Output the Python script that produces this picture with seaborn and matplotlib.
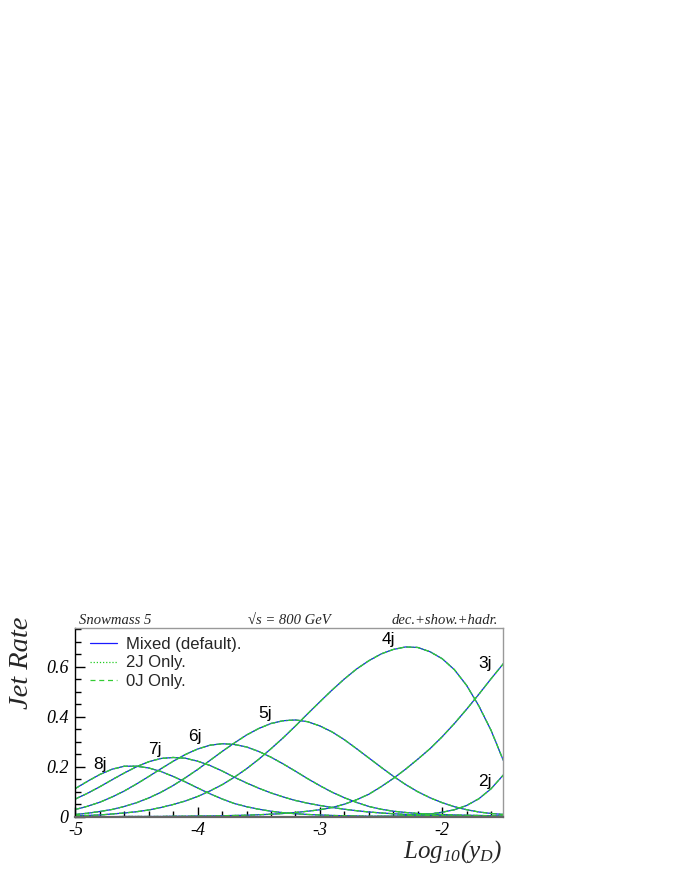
import numpy as np
import pandas as pd
import matplotlib
matplotlib.use("Agg")
import matplotlib.pyplot as plt
import seaborn as sns
from matplotlib.lines import Line2D
from matplotlib.ticker import MultipleLocator

# ---------------- data ----------------
log_yd = [-5.0, -4.9, -4.8, -4.7, -4.6, -4.5, -4.4, -4.3, -4.2, -4.1,
          -4.0, -3.9, -3.8, -3.7, -3.6, -3.5, -3.4, -3.3, -3.2, -3.1,
          -3.0, -2.9, -2.8, -2.7, -2.6, -2.5, -2.4, -2.3, -2.2, -2.1,
          -2.0, -1.9, -1.8, -1.7, -1.6, -1.5]

rate_2j = [0.0, 0.0, 0.0, 0.0, 0.0, 0.0, 0.0, 0.0, 0.0, 0.0,
           0.0, 0.0, 0.0, 0.0, 0.0, 0.0, 0.0, 0.0, 0.0, 0.0,
           0.0, 0.0, 0.0, 0.0, 0.0, 0.001, 0.002, 0.004, 0.007, 0.011,
           0.018, 0.028, 0.045, 0.072, 0.112, 0.167]
rate_3j = [0.0, 0.0, 0.0, 0.0, 0.001, 0.001, 0.001, 0.001, 0.002, 0.002,
           0.003, 0.003, 0.004, 0.005, 0.006, 0.008, 0.010, 0.013, 0.017, 0.022,
           0.028, 0.037, 0.050, 0.068, 0.090, 0.120, 0.153, 0.190, 0.230, 0.272,
           0.320, 0.373, 0.430, 0.490, 0.552, 0.612]
rate_4j = [0.004, 0.005, 0.007, 0.011, 0.015, 0.020, 0.027, 0.037, 0.049, 0.063,
           0.081, 0.103, 0.128, 0.158, 0.192, 0.230, 0.272, 0.316, 0.363, 0.412,
           0.460, 0.507, 0.551, 0.591, 0.624, 0.651, 0.669, 0.679, 0.677, 0.660,
           0.632, 0.588, 0.525, 0.443, 0.345, 0.225]
rate_5j = [0.009, 0.014, 0.021, 0.029, 0.041, 0.056, 0.075, 0.098, 0.125, 0.156,
           0.189, 0.225, 0.261, 0.295, 0.327, 0.353, 0.373, 0.384, 0.387, 0.380,
           0.363, 0.339, 0.308, 0.272, 0.235, 0.198, 0.162, 0.129, 0.100, 0.076,
           0.056, 0.040, 0.028, 0.019, 0.013, 0.009]
rate_6j = [0.029, 0.042, 0.058, 0.079, 0.103, 0.131, 0.161, 0.192, 0.222, 0.249,
           0.271, 0.286, 0.292, 0.289, 0.279, 0.261, 0.238, 0.211, 0.182, 0.152,
           0.124, 0.098, 0.076, 0.057, 0.041, 0.030, 0.022, 0.017, 0.013, 0.011,
           0.009, 0.007, 0.006, 0.005, 0.004, 0.003]
rate_7j = [0.071, 0.094, 0.120, 0.148, 0.175, 0.200, 0.220, 0.233, 0.237, 0.234,
           0.222, 0.205, 0.183, 0.158, 0.135, 0.114, 0.095, 0.079, 0.065, 0.054,
           0.045, 0.037, 0.030, 0.024, 0.019, 0.015, 0.012, 0.009, 0.007, 0.005,
           0.004, 0.003, 0.002, 0.002, 0.001, 0.001]
rate_8j = [0.113, 0.142, 0.169, 0.190, 0.202, 0.202, 0.195, 0.181, 0.161, 0.139,
           0.115, 0.092, 0.071, 0.053, 0.040, 0.030, 0.022, 0.016, 0.012, 0.009,
           0.007, 0.005, 0.004, 0.003, 0.002, 0.002, 0.001, 0.001, 0.001, 0.001,
           0.0, 0.0, 0.0, 0.0, 0.0, 0.0]

jet_labels = ["2j", "3j", "4j", "5j", "6j", "7j", "8j"]
series_names = ["Mixed (default).", "2J Only.", "0J Only."]
x_ticks = [-5, -4, -3, -2]
x_tick_labels = ["-5", "-4", "-3", "-2"]
y_ticks = [0.0, 0.2, 0.4, 0.6]
y_tick_labels = ["0", "0.2", "0.4", "0.6"]

rates = dict(zip(jet_labels, [rate_2j, rate_3j, rate_4j, rate_5j,
                              rate_6j, rate_7j, rate_8j]))
rows = []
for jet, vals in rates.items():
    for xv, yv in zip(log_yd, vals):
        rows.append((jet, xv, yv))
df = pd.DataFrame(rows, columns=["jets", "log_yd", "rate"])

# ---------------- style ----------------
sns.set_theme(style="white")
plt.rcParams["font.family"] = ["Liberation Sans", "DejaVu Sans"]
plt.rcParams["mathtext.fontset"] = "custom"
plt.rcParams["mathtext.it"] = "Liberation Serif:italic"
plt.rcParams["mathtext.rm"] = "Liberation Serif:italic"
plt.rcParams["mathtext.default"] = "it"

serif_it = dict(family=["Liberation Serif", "DejaVu Serif"], style="italic")

fig = plt.figure(figsize=(6.8, 8.8), dpi=100)
ax = fig.add_axes([0.1109, 0.0719, 0.6293, 0.2148])

styles = [
    ("Mixed (default).", "#1a1aff", "-"),
    ("2J Only.", "#22cc22", (0, (1, 1.5))),
    ("0J Only.", "#33cc33", (0, (4, 3))),
]
for name, color, ls in styles:
    for jet in jet_labels:
        sub = df[df["jets"] == jet]
        sns.lineplot(data=sub, x="log_yd", y="rate", ax=ax, color=color,
                     linestyle=ls, linewidth=0.9, legend=False,
                     estimator=None, sort=False)

ax.set_xlim(-5, -1.5)
ax.set_ylim(0, 0.756)
ax.set_xlabel("")
ax.set_ylabel("")

ax.set_xticks(x_ticks, labels=x_tick_labels)
ax.set_yticks(y_ticks, labels=y_tick_labels)
ax.xaxis.set_minor_locator(MultipleLocator(0.2))
ax.yaxis.set_minor_locator(MultipleLocator(0.05))
ax.tick_params(axis="both", which="both", direction="in", colors="black",
               bottom=True, left=True, top=False, right=False)
ax.tick_params(axis="x", which="major", length=7, width=1, pad=4)
ax.tick_params(axis="x", which="minor", length=4, width=1)
ax.tick_params(axis="y", which="major", length=7, width=1, pad=5)
ax.tick_params(axis="y", which="minor", length=4, width=1)
for lbl in ax.get_xticklabels() + ax.get_yticklabels():
    lbl.set_fontfamily(["Liberation Serif", "DejaVu Serif"])
    lbl.set_fontstyle("italic")
    lbl.set_fontsize(13)

for side in ["top", "right"]:
    ax.spines[side].set_color("#999999")
    ax.spines[side].set_linewidth(1.0)
ax.spines["left"].set_color("black")
ax.spines["left"].set_linewidth(1.0)
ax.spines["bottom"].set_color("#666666")
ax.spines["bottom"].set_linewidth(1.6)

# curve labels
label_pos = {"8j": (-4.80, 0.207), "7j": (-4.35, 0.269), "6j": (-4.02, 0.320),
             "5j": (-3.445, 0.411), "4j": (-2.44, 0.707), "3j": (-1.647, 0.611),
             "2j": (-1.647, 0.140)}
for jet, (lx, ly) in label_pos.items():
    ax.text(lx, ly, jet, ha="center", va="center", fontsize=12.5, color="black")

# legend
handles = [Line2D([], [], color=c, linestyle=ls, linewidth=0.9) for _, c, ls in styles]
ax.legend(handles, series_names, loc="upper left", bbox_to_anchor=(0.035, 0.95),
          frameon=False, fontsize=12, handlelength=1.6, handletextpad=0.55,
          labelspacing=0.2, borderaxespad=0, borderpad=0)

# header texts
fig.text(79 / 680, 1 - 620 / 880, "Snowmass 5", ha="left", va="center",
         fontsize=10.5, **serif_it)
fig.text(289 / 680, 1 - 620 / 880, "\u221as = 800 GeV", ha="center", va="center",
         fontsize=10.5, **serif_it)
fig.text(498 / 680, 1 - 620 / 880, "dec.+show.+hadr.", ha="right", va="center",
         fontsize=10.5, **serif_it)

# axis titles
fig.text(22 / 680, 1 - 617 / 880, "Jet Rate", rotation=90, ha="center", va="top",
         fontsize=20.5, **serif_it)
fig.text(503 / 680, 1 - 852 / 880, r"$Log_{10}(y_D)$", ha="right", va="center",
         fontsize=18)

fig.savefig("out.png", dpi=100)
